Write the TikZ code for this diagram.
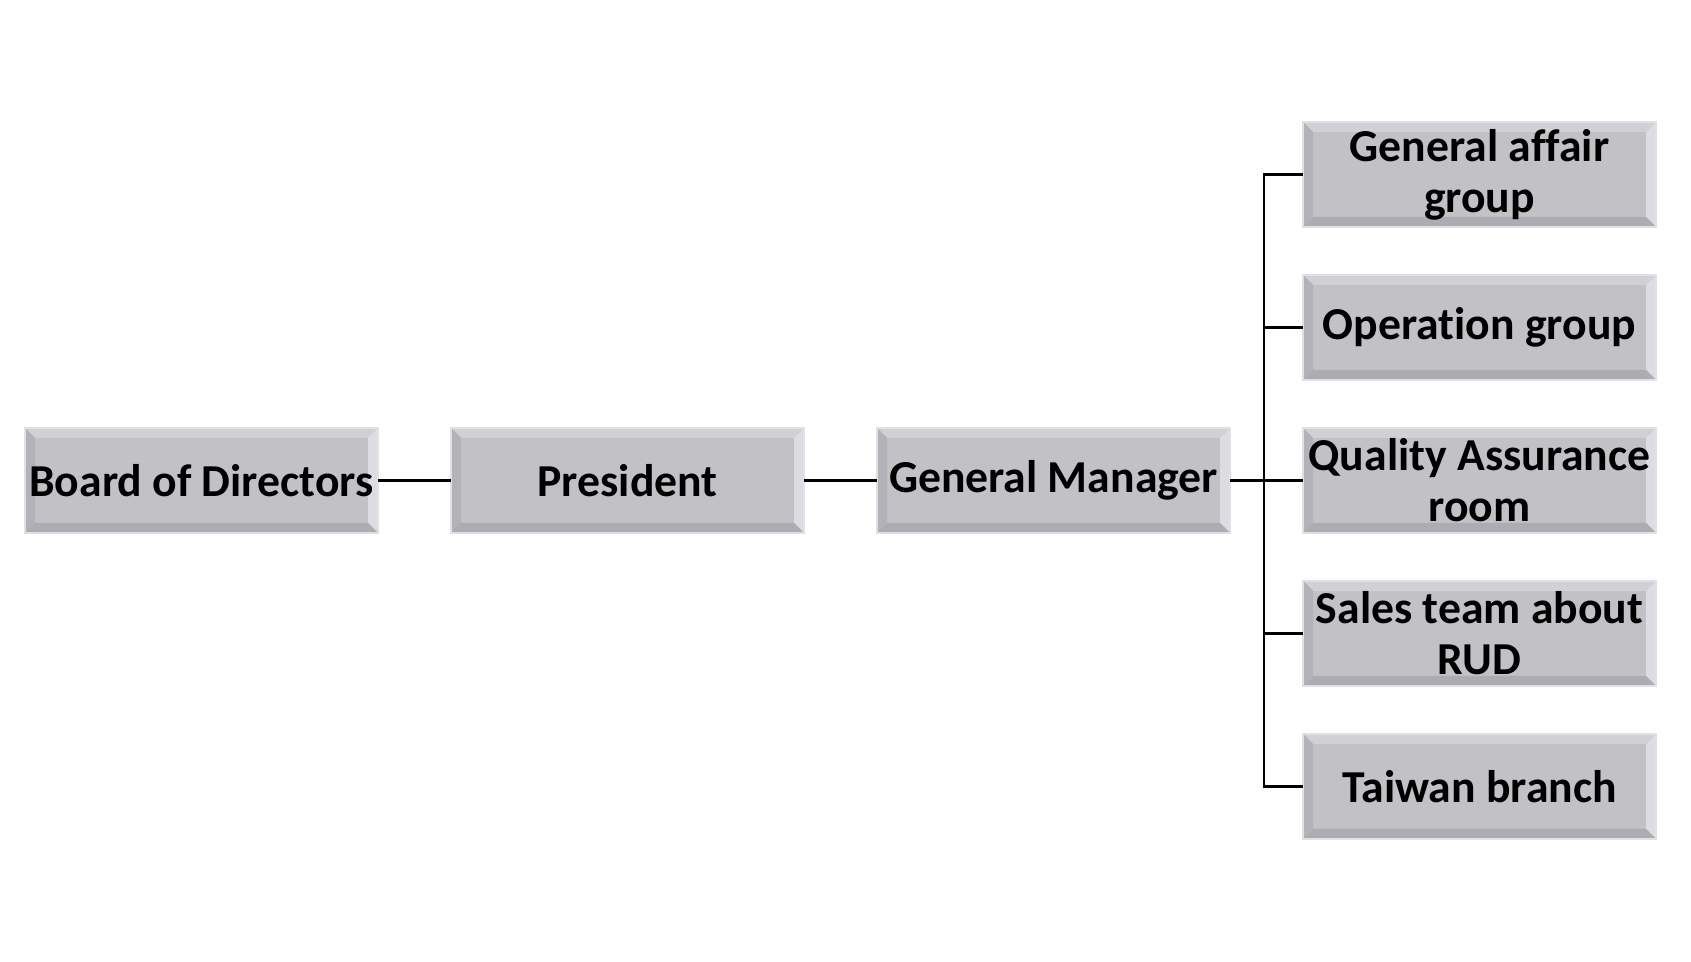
\documentclass[tikz,border=0pt]{standalone}
\usepackage{fontspec}
\setmainfont{Carlito}[RawFeature=-liga]
\usepackage{tikz}
\usetikzlibrary{positioning,calc}
\definecolor{orggray}{RGB}{193,193,198}
\definecolor{orgedge}{RGB}{224,224,229}
\definecolor{orgtop}{RGB}{208,208,213}
\definecolor{orgleft}{RGB}{178,178,184}
\definecolor{orgright}{RGB}{220,220,226}
\definecolor{orgbottom}{RGB}{172,172,178}
\tikzset{
  orgbox/.style={fill=orggray, draw=orgedge, line width=0.8pt, outer sep=0pt,
    minimum width=3.53cm, minimum height=1.05cm, text width=3.5cm, align=flush center,
    inner sep=0pt, font=\bfseries\fontsize{13}{14.5}\selectfont,
    path picture={
      \coordinate (nw) at (path picture bounding box.north west);
      \coordinate (ne) at (path picture bounding box.north east);
      \coordinate (sw) at (path picture bounding box.south west);
      \coordinate (se) at (path picture bounding box.south east);
      \fill[orgtop] (nw) -- (ne) -- ([shift={(-0.1,-0.1)}]ne) -- ([shift={(0.1,-0.1)}]nw) -- cycle;
      \fill[orgleft] (nw) -- (sw) -- ([shift={(0.1,0.1)}]sw) -- ([shift={(0.1,-0.1)}]nw) -- cycle;
      \fill[orgright] (ne) -- (se) -- ([shift={(-0.1,0.1)}]se) -- ([shift={(-0.1,-0.1)}]ne) -- cycle;
      \fill[orgbottom] (sw) -- (se) -- ([shift={(-0.1,0.1)}]se) -- ([shift={(0.1,0.1)}]sw) -- cycle;
    }},
  link/.style={draw=black, line width=0.75pt}
}
\begin{document}
\begin{tikzpicture}[node distance=0.73cm]
  \useasboundingbox (0,0) rectangle (16.91,-9.62);
  \node[orgbox] (board) at (2.015,-4.805) {Board of Directors};
  \node[orgbox, right=of board] (president) {President};
  \node[orgbox, right=of president] (gm) {General Manager};
  \node[orgbox, right=of gm] (quality) {Quality Assurance\\room};
  \node[orgbox, above=0.48cm of quality] (operation) {Operation group};
  \node[orgbox, above=0.48cm of operation] (affair) {General affair\\group};
  \node[orgbox, below=0.48cm of quality] (sales) {Sales team about\\RUD};
  \node[orgbox, below=0.48cm of sales] (taiwan) {Taiwan branch};
  \coordinate (bus) at ([xshift=0.34cm]gm.east);
  \draw[link] (board) -- (president);
  \draw[link] (president) -- (gm);
  \draw[link] (gm) -- (quality);
  \draw[link] (affair.west) -| (bus) |- (taiwan.west);
  \draw[link] (bus |- operation.west) -- (operation.west);
  \draw[link] (bus |- sales.west) -- (sales.west);
\end{tikzpicture}
\end{document}
